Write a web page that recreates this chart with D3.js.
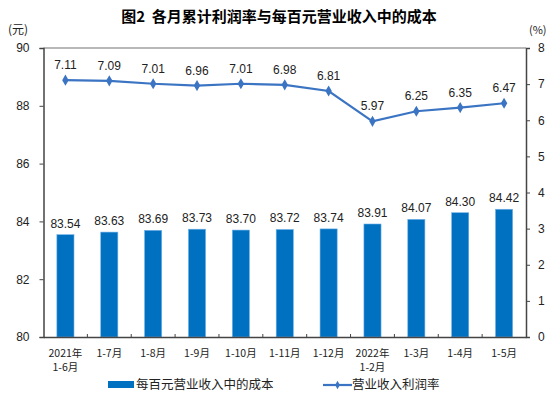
<!DOCTYPE html>
<html>
<head>
<meta charset="utf-8">
<script src="https://cdn.jsdelivr.net/npm/d3@7"></script>
<style>
  body { margin: 0; background: #fff; }
  text { font-family: "Liberation Sans", "Noto Sans CJK SC", sans-serif; }
</style>
</head>
<body>
<div id="chart"></div>
<script>
// categories (two-line labels split by \n)
const months = ['2021年\n1-6月', '1-7月', '1-8月', '1-9月', '1-10月', '1-11月', '1-12月', '2022年\n1-2月', '1-3月', '1-4月', '1-5月'];
// 每百元营业收入中的成本 (元)
const costPer100 = [83.54, 83.63, 83.69, 83.73, 83.70, 83.72, 83.74, 83.91, 84.07, 84.30, 84.42];
// 营业收入利润率 (%)
const profitRate = [7.11, 7.09, 7.01, 6.96, 7.01, 6.98, 6.81, 5.97, 6.25, 6.35, 6.47];
const leftTicks = [80, 82, 84, 86, 88, 90];
const rightTicks = [0, 1, 2, 3, 4, 5, 6, 7, 8];

const W = 554, H = 399;
const margin = { top: 48, right: 28, bottom: 62, left: 43.5 };
const width = W - margin.left - margin.right;
const height = H - margin.top - margin.bottom;
const barColor = '#0070c0';
const lineColor = '#3b74c3';
const cjk = '"Noto Sans CJK SC", sans-serif';

const svg = d3.select('#chart').append('svg')
  .attr('width', W)
  .attr('height', H);

// title
svg.append('text')
  .attr('x', 279).attr('y', 22)
  .attr('text-anchor', 'middle')
  .style('font-family', cjk)
  .style('font-weight', 'bold')
  .style('font-size', '15px')
  .style('white-space', 'pre')
  .text('图2  各月累计利润率与每百元营业收入中的成本');

const g = svg.append('g')
  .attr('transform', `translate(${margin.left}, ${margin.top})`);

const x = d3.scaleBand().domain(months).range([0, width]).paddingInner(0.61).paddingOuter(0.305);
const yL = d3.scaleLinear().domain([80, 90]).range([height, 0]);
const yR = d3.scaleLinear().domain([0, 8]).range([height, 0]);

// frame top line
g.append('line')
  .attr('x1', 0).attr('x2', width).attr('y1', 0).attr('y2', 0)
  .attr('stroke', '#a0a0a0').attr('stroke-width', 1.5);

// bars
g.selectAll('rect.bar')
  .data(costPer100)
  .join('rect')
  .attr('class', 'bar')
  .attr('x', (d, i) => x(months[i]))
  .attr('width', x.bandwidth())
  .attr('y', d => yL(d))
  .attr('height', d => yL(80) - yL(d))
  .attr('fill', barColor)
  .attr('stroke', '#6fb0e6')
  .attr('stroke-width', 0.6);

g.selectAll('text.barlabel')
  .data(costPer100)
  .join('text')
  .attr('class', 'barlabel')
  .attr('x', (d, i) => x(months[i]) + x.bandwidth() / 2)
  .attr('y', d => yL(d) - 7)
  .attr('text-anchor', 'middle')
  .style('font-size', '12px')
  .attr('fill', '#222')
  .text(d => d.toFixed(2));

// line
const cx = i => x(months[i]) + x.bandwidth() / 2;
const line = d3.line()
  .x((d, i) => cx(i))
  .y(d => yR(d));

g.append('path')
  .datum(profitRate)
  .attr('fill', 'none')
  .attr('stroke', lineColor)
  .attr('stroke-width', 2.2)
  .attr('d', line);

const diamond = d3.symbol().type(d3.symbolDiamond).size(36);
g.selectAll('path.pt')
  .data(profitRate)
  .join('path')
  .attr('class', 'pt')
  .attr('d', diamond)
  .attr('transform', (d, i) => `translate(${cx(i)}, ${yR(d)})`)
  .attr('fill', lineColor);

g.selectAll('text.linelabel')
  .data(profitRate)
  .join('text')
  .attr('class', 'linelabel')
  .attr('x', (d, i) => cx(i))
  .attr('y', d => yR(d) - 11)
  .attr('text-anchor', 'middle')
  .style('font-size', '12px')
  .attr('fill', '#222')
  .text(d => d.toFixed(2));

// left axis
const axL = g.append('g')
  .call(d3.axisLeft(yL).tickValues(leftTicks).tickSize(4).tickPadding(10).tickFormat(d3.format('d')));
axL.select('.domain').attr('stroke', '#444').attr('stroke-width', 1.5);
axL.selectAll('.tick line').attr('stroke', '#444');
axL.selectAll('.tick text').style('font-size', '12px').attr('fill', '#222');

// right axis
const axR = g.append('g')
  .attr('transform', `translate(${width}, 0)`)
  .call(d3.axisRight(yR).tickValues(rightTicks).tickSize(4).tickPadding(8).tickFormat(d3.format('d')));
axR.select('.domain').attr('stroke', '#444').attr('stroke-width', 1.5);
axR.selectAll('.tick line').attr('stroke', '#444');
axR.selectAll('.tick text').style('font-size', '12px').attr('fill', '#222');

// bottom axis
const axB = g.append('g')
  .attr('transform', `translate(0, ${height})`)
  .call(d3.axisBottom(x).tickSize(0).tickPadding(9));
axB.select('.domain').attr('stroke', '#444').attr('stroke-width', 1.5);
axB.selectAll('.tick text').remove();
axB.selectAll('.tick').each(function (d) {
  const t = d3.select(this).append('text')
    .attr('fill', '#222')
    .attr('text-anchor', 'middle')
    .style('font-family', cjk)
    .style('font-size', '10.5px');
  d.split('\n').forEach((s, k) => {
    t.append('tspan').attr('x', 0).attr('y', 20 + k * 14).text(s);
  });
});
// small ticks between categories
g.selectAll('line.sep')
  .data(d3.range(1, months.length))
  .join('line')
  .attr('class', 'sep')
  .attr('x1', i => i * width / months.length)
  .attr('x2', i => i * width / months.length)
  .attr('y1', height).attr('y2', height - 3)
  .attr('stroke', '#444');

// unit labels
svg.append('text').attr('x', 8).attr('y', 34)
  .style('font-family', cjk).style('font-size', '12px').attr('fill', '#222').text('(元)');
svg.append('text').attr('x', 529).attr('y', 34)
  .style('font-family', cjk).style('font-size', '11px').attr('fill', '#222').text('(%)');

// legend
const lg = svg.append('g');
lg.append('rect').attr('x', 108).attr('y', 381).attr('width', 26).attr('height', 7).attr('fill', barColor);
lg.append('text').attr('x', 136).attr('y', 389)
  .style('font-family', cjk).style('font-size', '12.5px').attr('fill', '#222').text('每百元营业收入中的成本');
lg.append('line').attr('x1', 323).attr('x2', 352).attr('y1', 385).attr('y2', 385)
  .attr('stroke', lineColor).attr('stroke-width', 2.2);
lg.append('path').attr('d', d3.symbol().type(d3.symbolDiamond).size(20)).attr('transform', 'translate(337.5, 385)').attr('fill', lineColor);
lg.append('text').attr('x', 352).attr('y', 389)
  .style('font-family', cjk).style('font-size', '12.5px').attr('fill', '#222').text('营业收入利润率');
</script>
</body>
</html>
